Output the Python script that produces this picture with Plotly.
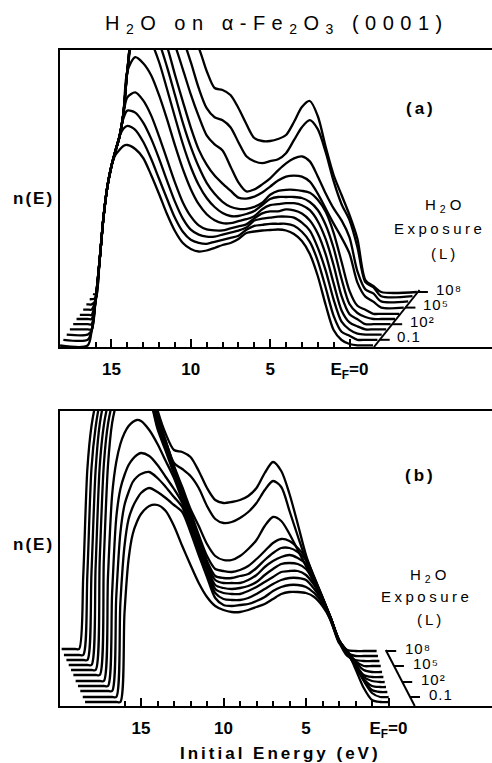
import plotly.graph_objects as go

# ---------------- data ----------------
# Panel (a): energy grid (eV, initial energy) and n(E) of each spectrum,
# bottom spectrum first (clean, 0.1 L, 1 L, ... 1e8 L)
energy_a = [16.5, 16.25, 16.0, 15.75, 15.5, 15.25, 15.0, 14.75, 14.5, 14.25, 14.0,
            13.5, 13.0, 12.5, 12.0, 11.5, 11.0, 10.5, 10.0, 9.5, 9.0, 8.5, 8.0, 7.5,
            7.0, 6.5, 6.0, 5.5, 5.0, 4.5, 4.0, 3.5, 3.0, 2.5, 2.0, 1.5, 1.0, 0.5, 0.0,
            -0.5, -1.0, -1.5, -2.0]
a0 = [1.5, 16, 47, 86, 130, 161, 181, 192, 197, 201, 202, 198, 189, 172, 153, 133, 116, 104, 98, 95.5,
      96.5, 99, 102, 104, 108, 114, 115.5, 116.5, 117, 117.5, 116.5, 113, 106, 93, 71, 42, 17, 7, 3, 1.7,
      1.7, None, None]
a1 = [2, 11, 42, 81, 125, 156, 176, 191, 205, 213, 216, 212, 200, 183, 163, 143, 124, 110, 102, 99,
      98, 100, 102, 104, 106, 112, 116, 117, 118, 118, 118, 116, 110, 100, 81, 54, 26, 10, 6, 2, 2, 2, None]
a2 = [2, 6, 37, 76, 120, 151, 171, 186, 200, 218, 226, 224, 214, 198, 178, 156, 135, 118, 107, 102,
      100, 100, 102, 104, 106, 109, 116, 118, 119, 120, 120, 119, 114, 106, 89, 66, 37, 15, 7, 3, 2, 2, 2]
a3 = [2, 2, 31, 70, 114, 145, 165, 180, 194, 217, 234, 239, 231, 216, 195, 172, 149, 129, 115, 106,
      102, 101, 101, 103, 105, 107, 113, 118, 120, 120, 122, 121, 118, 111, 98, 77, 48, 21, 9, 5, 2, 2, 2]
a4 = [2, 2, 26, 65, 109, 140, 160, 175, 189, 212, 255, 269, 263, 251, 231, 207, 181, 157, 137, 122,
      112, 106, 103, 103, 105, 107, 110, 117, 121, 122, 123, 123, 121, 116, 105, 87, 61, 30, 12, 7, 2, 2, 2]
a5 = [2, 2, 21, 60, 104, 135, 155, 170, 184, 207, 250, 292, 289, 279, 259, 232, 204, 177, 154, 136,
      123, 114, 108, 105, 105, 107, 110, 116, 122, 124, 124, 124, 123, 119, 111, 96, 73, 42, 17, 8, 4, 2, 2]
a6 = [1, 1, 16, 55, 99, 130, 150, 165, 179, 202, 245, 294, 294, 287, 273, 249, 221, 193, 169, 149,
      133, 122, 114, 109, 107, 107, 109, 113, 121, 125, 126, 126, 125, 123, 116, 104, 83, 54, 25, 10, 6, 2, 2]
a7 = [1, 1, 11, 50, 94, 125, 145, 160, 174, 197, 240, 294, 299, 292, 282, 264, 236, 209, 183, 161,
      146, 135, 127, 120, 113, 112, 114, 118, 124, 130, 134, 135, 134, 129, 117, 102, 87, 73, 57, 28, 14, 9, 3]
a8 = [1, 1, 5, 44, 88, 119, 139, 154, 168, 191, 234, 293, 303, 298, 288, 276, 260, 236, 211, 189,
      170, 161, 155, 139, 123, 114, 116, 121, 127, 135, 142, 147, 149, 144, 129, 112, 97, 85, 68, 34, 16, 12, 4]
a9 = [None, 1, 2, 39, 83, 114, 134, 149, 163, 186, 229, 293, 308, 305, 298, 288, 275, 261, 238, 212,
      192, 183, 180, 173, 158, 144, 139, 137, 139, 141, 147, 160, 173, 180, 171, 148, 119, 96, 80, 53, 18, 13, 4]
a10 = [None, None, 1, 34, 78, 109, 129, 144, 158, 181, 224, 293, 313, 316, 310, 300, 288, 273, 260, 247,
       224, 207, 205, 200, 187, 171, 157, 154, 154, 156, 160, 173, 188, 194, 179, 148, 120, 100, 80, 56, 15, 9, 3]
start_a = [18.24, 18.03, 17.82, 17.62, 17.41, 17.2, 16.99, 16.78, 16.58, 16.37, 16.16]
end_a = [-1.48, -1.76, -2.03, -2.31, -2.59, -2.87, -3.14, -3.42, -3.7, -3.97, -4.25]

# Panel (b)
energy_b = [19.0, 18.75, 18.5, 18.25, 18.0, 17.75, 17.5, 17.25, 17.0, 16.75, 16.5, 16.25, 16.0,
            15.75, 15.5, 15.25, 15.0, 14.5, 14.0, 13.5, 13.0, 12.5, 12.0, 11.5, 11.0, 10.5, 10.0,
            9.5, 9.0, 8.5, 8.0, 7.5, 7.0, 6.5, 6.0, 5.5, 5.0, 4.5, 4.0, 3.5, 3.0, 2.5, 2.0, 1.5,
            1.0, 0.5, 0.0]
b0 = [None, None, None, 4, 4, 4, 4, 4, 4, 4, 4, 4, 93, 147, 172, 184, 192, 200, 201, 195, 180, 160,
      141, 123, 109, 100, 96, 94, 94, 96, 99, 102, 107, 112, 114, 114, 113, 109, 100, 86, 63, 55, 37, 18, 6, 4, 4]
b1 = [None, None, 4, 4, 4, 4, 4, 4, 4, 4, 4, 98, 155, 182, 194, 202, 208, 213, 209, 203, 196, 189,
      169, 146, 124, 103, 96, 95, 96, 97, 100, 104, 110, 114, 116, 116, 114, 108, 98, 82, 60, 48, 35, 20, 8, 4, 4]
b2 = [None, None, 5, 5, 5, 5, 5, 5, 5, 5, 99, 163, 191, 204, 214, 219, 222, 224, 218, 209, 199, 189,
      167, 145, 122, 103, 97, 96, 96, 98, 102, 107, 112, 116, 118, 118, 116, 107, 95, 78, 55, 43, 30, 16, 6, 4, None]
b3 = [None, 5, 5, 5, 5, 5, 5, 5, 5, 98, 173, 202, 216, 226, 232, 236, 238, 235, 226, 214, 202, 188,
      166, 143, 121, 102, 98, 97, 97, 100, 104, 109, 114, 119, 120, 120, 116, 106, 92, 73, 50, 38, 26, 12, 5, 4, None]
b4 = [None, 5, 5, 5, 5, 5, 5, 5, 110, 191, 224, 242, 253, 260, 264, 266, 265, 256, 242, 225, 208, 186,
      164, 141, 119, 101, 98, 97, 98, 100, 104, 111, 117, 122, 123, 122, 117, 104, 88, 68, 46, 34, 21, 9, 5, 4, None]
b5 = [6, 6, 6, 6, 6, 6, 6, 122, 216, 258, 277, 290, 297, 303, 303, 303, 303, 285, 252, 230, 207, 184,
      162, 140, 117, 101, 98, 98, 98, 101, 106, 114, 120, 124, 126, 123, 117, 102, 83, 63, 41, 29, 17, 6, 4, 4, None]
b6 = [6, 6, 6, 6, 6, 6, 117, 212, 252, 272, 285, 292, 298, 298, 298, 298, 298, 282, 250, 228, 206, 183,
      160, 138, 115, 100, 98, 98, 100, 102, 108, 116, 123, 128, 128, 124, 116, 98, 78, 58, 36, 24, 14, 6, 4, 4, None]
b7 = [6, 6, 6, 6, 6, 104, 205, 246, 267, 280, 287, 293, 293, 293, 293, 293, 293, 280, 249, 226, 204, 181,
      159, 136, 115, 102, 100, 99, 101, 105, 112, 120, 128, 132, 130, 123, 113, 94, 74, 53, 31, 20, 10, 5, 5, 5, None]
b8 = [6, 6, 6, 6, 94, 196, 242, 264, 278, 285, 290, 290, 290, 290, 290, 290, 290, 278, 248, 225, 200, 179,
      157, 140, 122, 110, 106, 106, 110, 117, 126, 140, 149, 145, 132, 116, 100, 83, 64, 45, 24, 10, 6, 5, 5, None, None]
b9 = [6, 6, 6, 87, 193, 234, 258, 273, 280, 285, 285, 285, 285, 285, 285, 285, 285, 277, 247, 220, 198, 192,
      185, 173, 155, 142, 138, 139, 143, 149, 158, 171, 180, 174, 150, 125, 101, 81, 61, 41, 20, 8, 5, 5, 5, None, None]
b10 = [7, 7, 80, 187, 230, 252, 265, 275, 280, 285, 285, 285, 285, 285, 285, 285, 285, 280, 246, 222, 206, 204,
       199, 185, 168, 156, 153, 154, 156, 160, 168, 183, 194, 185, 162, 132, 101, 78, 58, 37, 16, 6, 5, 5, 5, None, None]
start_b = [18.39, 18.53, 18.68, 18.82, 18.96, 19.1, 19.24, 19.38, 19.52, 19.67, 19.81]
end_b = [-0.09, -0.01, 0.07, 0.15, 0.23, 0.31, 0.39, 0.47, 0.55, 0.64, 0.72]

exposure_labels = ["0.1", "10²", "10⁵", "10⁸"]
exposure_curve_index = [1, 4, 7, 10]
tick_vals = [15, 10, 5, 0]
tick_text = ["<b>15</b>", "<b>10</b>", "<b>5</b>", "<b>E<sub>F</sub>=0</b>"]
minor_vals = [16, 14, 13, 12, 11, 9, 8, 7, 6, 4, 3, 2, 1]

curves_a = [a0, a1, a2, a3, a4, a5, a6, a7, a8, a9, a10]
curves_b = [b0, b1, b2, b3, b4, b5, b6, b7, b8, b9, b10]

# ---------------- drawing ----------------
DY_A = 5.2   # vertical waterfall offset per spectrum, panel (a)
DY_B = 5.0   # panel (b)
FONT = "Liberation Sans, Arial, sans-serif"
W, H = 492, 763

fig = go.Figure()


def add_panel(energy, curves, starts, ends, dy, xa, ya):
    for i, vals in enumerate(curves):
        valid = [k for k, v in enumerate(vals) if v is not None]
        k0, k1 = valid[0], valid[-1]
        xs = [starts[i]] + energy[k0:k1 + 1] + [ends[i]]
        ys = [vals[k0]] + vals[k0:k1 + 1] + [vals[k1]]
        ys = [v + dy * i for v in ys]
        fig.add_trace(go.Scatter(x=xs, y=ys, mode="lines", xaxis=xa, yaxis=ya,
                                 line=dict(color="black", width=2.3, shape="spline", smoothing=0.8),
                                 hoverinfo="skip", showlegend=False))


def add_exposure_axis(curves, dy, xa, ya, x_bottom, x_top, y_top, tick_len, gap):
    fig.add_trace(go.Scatter(x=[x_bottom, x_top], y=[0, y_top], mode="lines", xaxis=xa, yaxis=ya,
                             line=dict(color="black", width=2), hoverinfo="skip", showlegend=False))
    slope = (x_top - x_bottom) / y_top
    for lab, j in zip(exposure_labels, exposure_curve_index):
        tail = [v for v in curves[j] if v is not None][-1]
        yt = tail + dy * j
        xd = x_bottom + slope * yt
        fig.add_trace(go.Scatter(x=[xd, xd - tick_len], y=[yt, yt], mode="lines", xaxis=xa, yaxis=ya,
                                 line=dict(color="black", width=2), hoverinfo="skip", showlegend=False))
        fig.add_annotation(x=xd - tick_len - gap, y=yt + 3, xref=xa, yref=ya,
                           text='<span style="letter-spacing:1px">%s</span>' % lab,
                           showarrow=False, xanchor="left", yanchor="middle", borderpad=0,
                           font=dict(family=FONT, size=15, color="black"))


add_panel(energy_a, curves_a, start_a, end_a, DY_A, "x", "y")
add_panel(energy_b, curves_b, start_b, end_b, DY_B, "x2", "y2")
add_exposure_axis(curves_a, DY_A, "x", "y", -1.54, -4.41, 57, 0.63, 0.42)
add_exposure_axis(curves_b, DY_B, "x2", "y2", -1.59, 0.165, 56, 0.6, 0.5)


def xaxis_style(rng, domain_y_anchor):
    return dict(domain=[60 / W, 1], range=rng, anchor=domain_y_anchor,
                showline=True, linecolor="black", linewidth=2, mirror=True,
                ticks="inside", ticklen=8, tickwidth=2, tickcolor="black",
                tickmode="array", tickvals=tick_vals, ticktext=tick_text,
                minor=dict(ticks="inside", ticklen=5, tickwidth=2, tickcolor="black",
                           tickmode="array", tickvals=minor_vals),
                tickfont=dict(family=FONT, size=17, color="black"),
                ticklabelstandoff=6,
                showgrid=False, zeroline=False, fixedrange=True)


def yaxis_style(dom, rng, anchor):
    return dict(domain=dom, range=rng, anchor=anchor, showline=True, linecolor="black",
                linewidth=2, mirror=False, showticklabels=False, ticks="",
                showgrid=False, zeroline=False, fixedrange=True)


fig.update_layout(
    width=W, height=H, margin=dict(l=0, r=0, t=0, b=0),
    paper_bgcolor="white", plot_bgcolor="white",
    xaxis=xaxis_style([18.242, -8.979], "y"),
    yaxis=yaxis_style([1 - 347 / H, 1 - 50 / H], [0, 297], "x"),
    xaxis2=xaxis_style([19.909, -6.273], "y2"),
    yaxis2=yaxis_style([1 - 706 / H, 1 - 411 / H], [0, 295], "x2"),
)


def ls(text, px):
    return '<span style="letter-spacing:%spx">%s</span>' % (px, text)


def paper_note(text, px, py, size, bold=False, spacing=0):
    t = ls(text, spacing) if spacing else text
    if bold:
        t = "<b>" + t + "</b>"
    fig.add_annotation(x=px / W, y=1 - py / H, xref="paper", yref="paper", text=t,
                       showarrow=False, xanchor="center", yanchor="middle",
                       font=dict(family=FONT, size=size, color="black"))


paper_note("H<sub>2</sub>O on α-Fe<sub>2</sub>O<sub>3</sub> (0001)", 277, 24, 20, spacing=6.5)
paper_note("n(E)", 33, 199, 17, bold=True, spacing=2)
paper_note("n(E)", 33, 544, 17, bold=True, spacing=2)
paper_note("(a)", 421, 109, 17, bold=True, spacing=3)
paper_note("(b)", 420, 475, 17, bold=True, spacing=3)
paper_note("H<sub>2</sub>O", 445, 205, 15, spacing=4)
paper_note("Exposure", 439, 228, 15, spacing=3.5)
paper_note("(L)", 444, 253, 15, spacing=3)
paper_note("H<sub>2</sub>O", 430, 575, 15, spacing=4)
paper_note("Exposure", 426, 596, 15, spacing=3.5)
paper_note("(L)", 430, 619, 15, spacing=3)
paper_note("Initial Energy (eV)", 280, 753, 17, bold=True, spacing=3)

fig.write_html("out.html")
